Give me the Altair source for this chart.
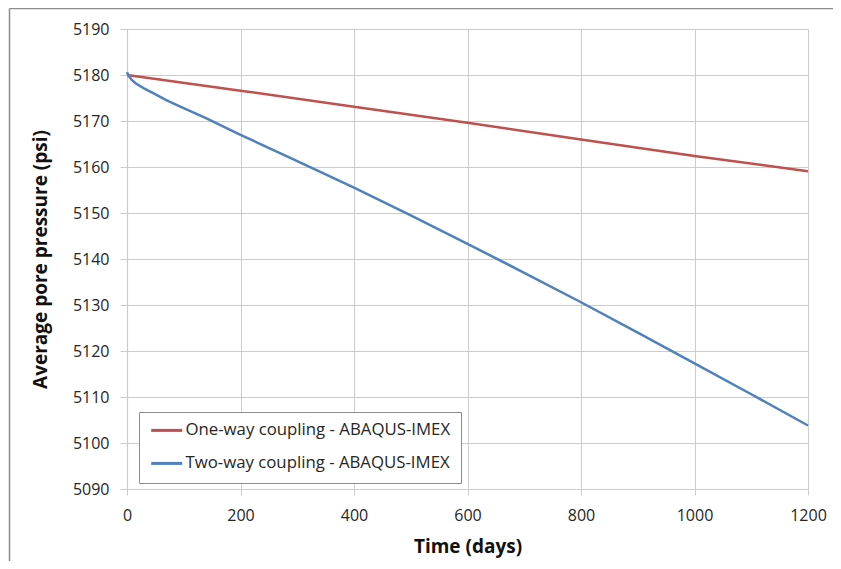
import altair as alt
import pandas as pd

one_way_label = "One-way coupling - ABAQUS-IMEX"
two_way_label = "Two-way coupling - ABAQUS-IMEX"

one_way_days = [0, 200, 400, 600, 800, 1000, 1200]
one_way_psi = [5180.0, 5176.6, 5173.1, 5169.6, 5166.0, 5162.4, 5159.1]

two_way_days = [0, 3, 8, 15, 30, 47, 70, 94, 141, 200, 300, 400, 500, 600, 700, 800, 900, 1000, 1100, 1200]
two_way_psi = [5180.6, 5179.8, 5179.0, 5178.2, 5177.1, 5176.0, 5174.5, 5173.1, 5170.5, 5167.0,
               5161.3, 5155.5, 5149.5, 5143.3, 5137.0, 5130.6, 5124.0, 5117.3, 5110.6, 5103.8]

x_ticks = [0, 200, 400, 600, 800, 1000, 1200]
y_ticks = list(range(5090, 5191, 10))

series_names = [one_way_label, two_way_label]
series_colors = ["#C0504D", "#4F81BD"]

df = pd.concat([
    pd.DataFrame({"days": one_way_days, "psi": one_way_psi, "series": one_way_label, "order": range(len(one_way_days))}),
    pd.DataFrame({"days": two_way_days, "psi": two_way_psi, "series": two_way_label, "order": range(len(two_way_days))}),
])

FONT = "Open Sans"
GRID = "#cccccc"

lines = alt.Chart(df).mark_line(strokeWidth=2.5).encode(
    x=alt.X("days:Q",
            scale=alt.Scale(domain=[0, 1200], nice=False),
            axis=alt.Axis(values=x_ticks, title="Time (days)", format="d", labelFlush=False,
                          tickSize=6, labelPadding=12, titlePadding=14)),
    y=alt.Y("psi:Q",
            scale=alt.Scale(domain=[5090, 5190], nice=False, zero=False),
            axis=alt.Axis(values=y_ticks, title="Average pore pressure (psi)", format="d", labelFlush=False,
                          tickSize=7, labelPadding=11, titlePadding=22)),
    color=alt.Color("series:N",
                    scale=alt.Scale(domain=series_names, range=series_colors),
                    title=None,
                    legend=alt.Legend(orient="none", legendX=12, legendY=383,
                                      strokeColor="#8c8c8c", fillColor="white", padding=10,
                                      symbolType="M-1,0H4", symbolSize=154, symbolStrokeWidth=3,
                                      labelFontSize=16.8, labelFont=FONT, labelColor="#262626",
                                      labelOffset=19.6, rowPadding=15, labelLimit=400)),
    order="order:Q",
)

one = pd.DataFrame({"a": [0]})
frame_top = alt.Chart(one).mark_rule(color="#8c8c8c", strokeWidth=1.5).encode(
    x=alt.value(-117.5), x2=alt.value(900), y=alt.value(-20.5))
frame_left = alt.Chart(one).mark_rule(color="#8c8c8c", strokeWidth=1.5).encode(
    x=alt.value(-117.5), y=alt.value(-20.5), y2=alt.value(700))

chart = alt.layer(lines, frame_top, frame_left).properties(
    width=681, height=460,
    autosize=alt.AutoSizeParams(type="none"),
    padding={"left": 119, "top": 21, "right": 25, "bottom": 72},
    background="white",
).configure_view(stroke=None).configure_axis(
    gridColor=GRID, gridWidth=1, domainColor=GRID, domainWidth=1.2,
    tickColor=GRID, tickWidth=1,
    labelFont=FONT, labelFontSize=16, labelColor="#262626",
    titleFont=FONT, titleFontSize=19, titleFontWeight="bold", titleColor="#111111",
)

chart.save("out.html", embed_options={"renderer": "svg", "actions": False})
